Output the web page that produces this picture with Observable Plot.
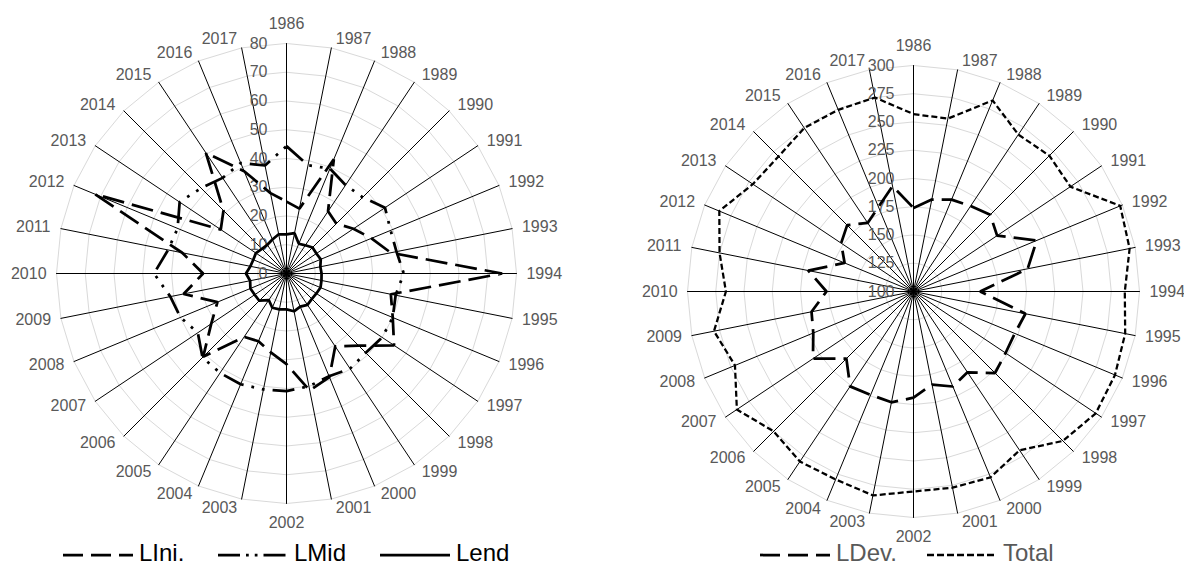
<!DOCTYPE html>
<html><head><meta charset="utf-8">
<script src="https://cdn.jsdelivr.net/npm/d3@7"></script>
<script src="https://cdn.jsdelivr.net/npm/@observablehq/plot@0.6"></script>
<style>
body{margin:0;background:#fff;font-family:'Liberation Sans',Arial,sans-serif;}
#wrap{position:relative;width:1184px;height:567px;overflow:hidden;background:#fff;}
.chart{position:absolute;top:0;}
.item{position:absolute;white-space:nowrap;line-height:1;}
</style></head><body>
<div id="wrap">
  <div id="left" class="chart" style="left:0px"></div>
  <div id="right" class="chart" style="left:590px"></div>
</div>
<script>
const years = d3.range(1986, 2018).map(String);

// Left chart series
const lIni = [25, 23, 43, 26, 24.5, 28, 32, 37, 75, 37, 40, 45, 35.5, 30.5, 39, 41.5,
              31.5, 28, 25.5, 26.5, 41, 31.5, 26, 36.5, 29, 37, 72, 27.5, 31, 50.5, 38.5, 28.5];
const lMid = [44.3, 38.4, 39.5, 37, 37.5, 41.2, 39.2, 39, 40.8, 38.7, 40, 40, 39, 39.8, 38.7, 40,
              40.9, 41.1, 41.7, 41.6, 41.3, 37.1, 39.9, 41.2, 46.1, 42, 41, 44.7, 42, 40, 41.6, 38.3];
const lEnd = [13.6, 14.3, 11.2, 11.8, 12.8, 12.5, 12.9, 12, 12.2, 12.4, 12.8, 12.5, 12.5, 13.1, 12.5, 13.4,
              12.5, 12.7, 12.9, 11.1, 13.4, 13.3, 13.6, 12.9, 14.1, 12.8, 12.5, 12.8, 12.1, 12, 12.8, 13.9];
const leftTicks = [0, 10, 20, 30, 40, 50, 60, 70, 80];

// Right chart series
const lDev = [174, 183, 188, 191, 196, 189, 218, 203, 159, 201, 197, 198, 202, 186, 191, 184,
              194, 200, 199, 201, 184, 207, 196, 192, 177, 195, 166, 177, 183, 173, 181, 195];
const total = [257, 256, 283, 267, 270, 267, 298, 295, 287, 291, 293, 294, 287, 269, 278, 277,
               277, 284, 280, 281, 275, 288, 271, 280, 266, 275, 286, 271, 269, 274, 274, 275];
const rightTicks = [100, 125, 150, 175, 200, 225, 250, 275, 300];

const FONT = "'Liberation Sans',Arial,sans-serif";
const GRAY = "#595959";

function radar({years, series, ticks, cx, cy, R, width, height, labelSize, tickSize}) {
  const min = ticks[0], max = ticks[ticks.length - 1], span = max - min;
  const n = years.length;
  const ppu = R / span;
  const ang = i => i * 2 * Math.PI / n;
  const pos = (i, v) => ({x: (v - min) * Math.sin(ang(i)), y: (v - min) * Math.cos(ang(i))});

  const grid = ticks.filter(t => t > min).flatMap(t => years.map((yr, i) => ({t, ...pos(i, t)})));
  const spokes = years.flatMap((yr, i) => [{yr, x: 0, y: 0}, {yr, ...pos(i, max)}]);
  // category labels placed beside the spoke ends (box edge a small gap away)
  const hw = labelSize * 1.11, hh = labelSize * 0.56;
  const yearLabels = years.map((yr, i) => {
    const s = Math.sin(ang(i)), c = Math.cos(ang(i));
    const end = pos(i, max);
    let ox, oy;
    if (Math.abs(s) < 1e-6) { ox = 0; oy = Math.sign(c) * (hh + 10.5); }
    else { ox = Math.sign(s) * (hw + 10 * Math.sqrt(Math.abs(s))); oy = c * hh; }
    return {yr, x: end.x + ox / ppu, y: end.y + oy / ppu};
  });
  const tickLabels = ticks.map(t => ({t, x: 0, y: t - min}));

  const marks = [
    Plot.line(grid, {x: "x", y: "y", z: "t", curve: "linear-closed", stroke: "#d9d9d9", strokeWidth: 1}),
    Plot.line(spokes, {x: "x", y: "y", z: "yr", stroke: "#000", strokeWidth: 1}),
    Plot.text(tickLabels, {x: "x", y: "y", text: d => String(d.t), textAnchor: "end", dx: -19,
      fill: GRAY, fontSize: tickSize}),
    Plot.text(yearLabels, {x: "x", y: "y", text: "yr", textAnchor: "middle", lineAnchor: "middle",
      fill: GRAY, fontSize: labelSize})
  ];
  for (const s of series) {
    const data = s.values.map((v, i) => ({year: years[i], ...pos(i, v)}));
    marks.push(Plot.line(data, {x: "x", y: "y", curve: "linear-closed", stroke: "#000",
      strokeWidth: s.width, strokeDasharray: s.dash, strokeLinecap: "butt", strokeLinejoin: "miter"}));
  }
  return Plot.plot({
    width, height, margin: 0,
    x: {domain: [-span, span], range: [cx - R, cx + R], axis: null},
    y: {domain: [-span, span], range: [cy + R, cy - R], axis: null},
    style: {fontFamily: FONT, background: "transparent", overflow: "visible"},
    marks
  });
}

document.getElementById("left").append(radar({
  years, ticks: leftTicks, cx: 286, cy: 273, R: 230, width: 580, height: 540, labelSize: 16, tickSize: 16,
  series: [
    {values: lIni, dash: "22,8", width: 2.75},
    {values: lMid, dash: "22,8,2.75,8,2.75,8", width: 2.75},
    {values: lEnd, dash: null, width: 2.75}
  ]
}));
document.getElementById("right").append(radar({
  years, ticks: rightTicks, cx: 913 - 590, cy: 291, R: 226, width: 594, height: 540, labelSize: 16, tickSize: 16,
  series: [
    {values: lDev, dash: "22,8", width: 2.75},
    {values: total, dash: "6,3", width: 2.25}
  ]
}));

// Legends
const legendItems = [
  {label: "LIni.", x: 63, dash: "20,8", width: 2.75, color: "#000", size: 24},
  {label: "LMid", x: 218, dash: "22,6,2.75,6,2.75,6", width: 2.75, color: "#000", size: 24},
  {label: "Lend", x: 380, dash: null, width: 2.75, color: "#000", size: 24},
  {label: "LDev.", x: 760, dash: "20,8", width: 2.75, color: GRAY, size: 24},
  {label: "Total", x: 927, dash: "7,3", width: 2.5, color: GRAY, size: 24}
];
const wrap = document.getElementById("wrap");
for (const it of legendItems) {
  const svg = d3.create("svg").attr("width", 70).attr("height", 6)
    .style("position", "absolute").style("left", it.x + "px").style("top", "552px");
  svg.append("line").attr("x1", 0).attr("x2", 70).attr("y1", 3).attr("y2", 3)
    .attr("stroke", "#000").attr("stroke-width", it.width)
    .attr("stroke-dasharray", it.dash);
  wrap.append(svg.node());
  const t = document.createElement("div");
  t.className = "item";
  t.style.left = (it.x + 76) + "px";
  t.style.top = "541px";
  t.style.fontSize = it.size + "px";
  t.style.color = it.color;
  t.textContent = it.label;
  wrap.append(t);
}
</script>
</body></html>
